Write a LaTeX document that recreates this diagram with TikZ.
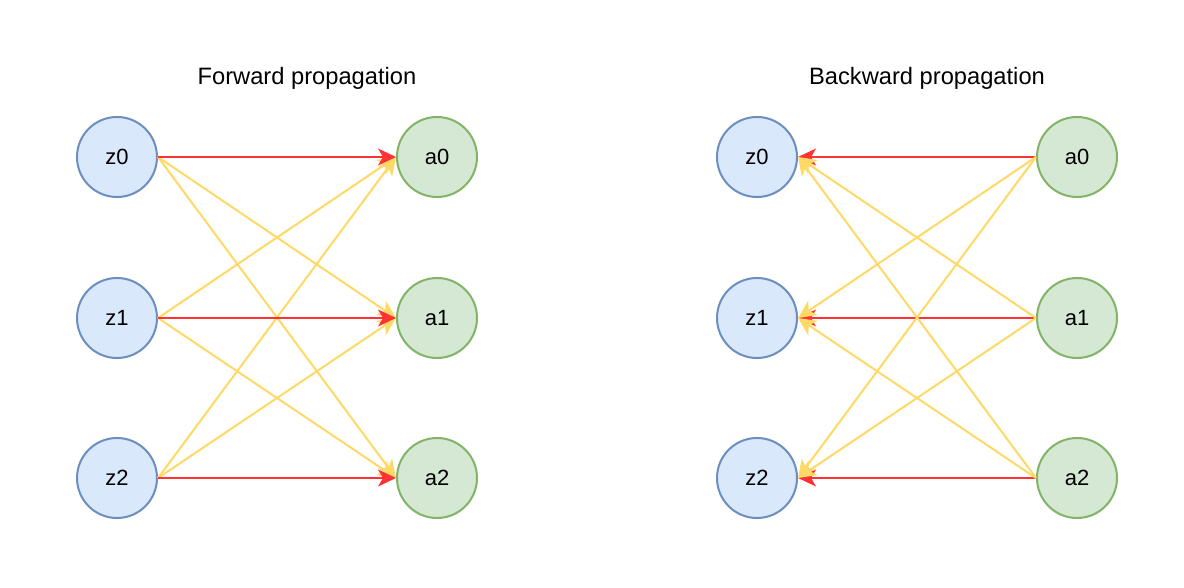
\documentclass[tikz,border=0pt]{standalone}
\usepackage{fontspec}
\setmainfont{Liberation Sans}
\usetikzlibrary{arrows.meta}
\definecolor{zfill}{HTML}{DAE8FC}
\definecolor{zline}{HTML}{6C8EBF}
\definecolor{afill}{HTML}{D5E8D4}
\definecolor{aline}{HTML}{82B366}
\definecolor{redline}{HTML}{FF3333}
\definecolor{yelline}{HTML}{FFD966}
\tikzset{
  zneuron/.style={circle, draw=zline, fill=zfill, line width=2pt, minimum size=80pt, inner sep=0pt, font=\fontsize{22}{26}\selectfont},
  aneuron/.style={circle, draw=aline, fill=afill, line width=2pt, minimum size=80pt, inner sep=0pt, font=\fontsize{22}{26}\selectfont},
  redarrow/.style={draw=redline, line width=2pt, -{Stealth[length=18pt, width=17pt, inset=5pt]}},
  yelarrow/.style={draw=yelline, line width=2pt, -{Stealth[length=18pt, width=17pt, inset=5pt]}},
  title/.style={font=\fontsize{23.7}{28}\selectfont}
}
\begin{document}
\begin{tikzpicture}[x=1pt, y=-1pt]
\useasboundingbox (0,0) rectangle (1184,588);
% Forward
\node[title] (tf) at (307,78) {Forward propagation};
\node[zneuron] (fz0) at (117,157) {z0};
\node[zneuron] (fz1) at (117,318) {z1};
\node[zneuron] (fz2) at (117,478) {z2};
\node[aneuron] (fa0) at (437,157) {a0};
\node[aneuron] (fa1) at (437,318) {a1};
\node[aneuron] (fa2) at (437,478) {a2};
\foreach \s/\t in {0/1,0/2,1/0,1/2,2/0,2/1}{
  \draw[yelarrow] (fz\s.east) -- (fa\t.west);
}
\foreach \s in {0,1,2}{
  \draw[redarrow] (fz\s.east) -- (fa\s.west);
}
% Backward
\node[title] (tb) at (927,78) {Backward propagation};
\node[zneuron] (bz0) at (757,157) {z0};
\node[zneuron] (bz1) at (757,318) {z1};
\node[zneuron] (bz2) at (757,478) {z2};
\node[aneuron] (ba0) at (1077,157) {a0};
\node[aneuron] (ba1) at (1077,318) {a1};
\node[aneuron] (ba2) at (1077,478) {a2};
\foreach \s in {0,1,2}{
  \draw[redarrow] (ba\s.west) -- (bz\s.east);
}
\foreach \s/\t in {0/1,0/2,1/0,1/2,2/0,2/1}{
  \draw[yelarrow] (ba\s.west) -- (bz\t.east);
}
\end{tikzpicture}
\end{document}
